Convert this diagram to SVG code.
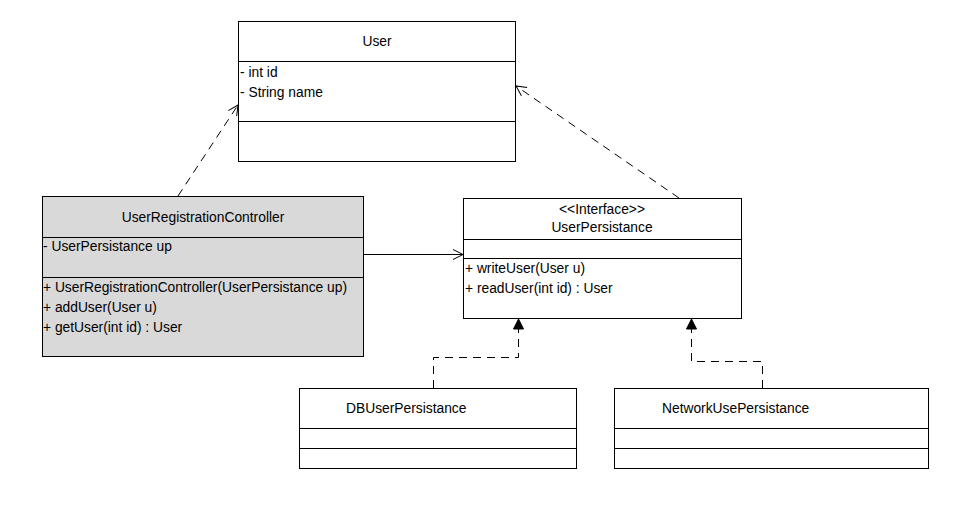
<svg xmlns="http://www.w3.org/2000/svg" width="963" height="517" viewBox="0 0 963 517">
<style>
.box{fill:#ffffff;stroke:#000000;stroke-width:1}
.grey{fill:#d9d9d9;stroke:#000000;stroke-width:1}
.div{stroke:#000000;stroke-width:1}
text{font-family:"Liberation Sans",Arial,sans-serif;font-size:13.8px;fill:#000000}
.c{text-anchor:middle}
.dash{fill:none;stroke:#000000;stroke-width:1;stroke-dasharray:8,6}
.solid{fill:none;stroke:#000000;stroke-width:1}
</style>
<defs>
<marker id="open" markerWidth="12" markerHeight="12" refX="11" refY="6" orient="auto" markerUnits="userSpaceOnUse">
<path d="M1,1 L11,6 L1,11" fill="none" stroke="#000000" stroke-width="1"/>
</marker>
<marker id="tri" markerWidth="12" markerHeight="12" refX="11" refY="6" orient="auto" markerUnits="userSpaceOnUse">
<path d="M1,1 L11,6 L1,11 Z" fill="#000000" stroke="#000000" stroke-width="1"/>
</marker>
</defs>
<rect width="963" height="517" fill="#ffffff"/>
<g id="User">
<rect class="box" x="238.5" y="21.5" width="277" height="140"/>
<line class="div" x1="238.5" y1="61.5" x2="515.5" y2="61.5"/>
<line class="div" x1="238.5" y1="121.5" x2="515.5" y2="121.5"/>
<text class="c" x="377" y="46">User</text>
<text x="240" y="77">- int id</text>
<text x="240" y="97">- String name</text>
</g>
<g id="UserRegistrationController">
<rect class="grey" x="42.5" y="196.5" width="321" height="160"/>
<line class="div" x1="42.5" y1="237.5" x2="363.5" y2="237.5"/>
<line class="div" x1="42.5" y1="277.5" x2="363.5" y2="277.5"/>
<text class="c" x="203" y="222">UserRegistrationController</text>
<text x="43" y="251">- UserPersistance up</text>
<text x="43" y="292">+ UserRegistrationController(UserPersistance up)</text>
<text x="43" y="312">+ addUser(User u)</text>
<text x="43" y="332">+ getUser(int id) : User</text>
</g>
<g id="UserPersistance">
<rect class="box" x="463.5" y="198.5" width="278" height="120"/>
<line class="div" x1="463.5" y1="239.5" x2="741.5" y2="239.5"/>
<line class="div" x1="463.5" y1="258.5" x2="741.5" y2="258.5"/>
<text class="c" x="602" y="214">&lt;&lt;Interface&gt;&gt;</text>
<text class="c" x="602" y="232">UserPersistance</text>
<text x="465" y="273">+ writeUser(User u)</text>
<text x="465" y="293">+ readUser(int id) : User</text>
</g>
<g id="DBUserPersistance">
<rect class="box" x="299.5" y="388.5" width="277" height="80"/>
<line class="div" x1="299.5" y1="428.5" x2="576.5" y2="428.5"/>
<line class="div" x1="299.5" y1="448.5" x2="576.5" y2="448.5"/>
<text x="346" y="413">DBUserPersistance</text>
</g>
<g id="NetworkUsePersistance">
<rect class="box" x="614.5" y="388.5" width="314" height="80"/>
<line class="div" x1="614.5" y1="428.5" x2="928.5" y2="428.5"/>
<line class="div" x1="614.5" y1="448.5" x2="928.5" y2="448.5"/>
<text x="662" y="413">NetworkUsePersistance</text>
</g>
<g id="connectors">
<path class="dash" d="M178,196 L238,105" marker-end="url(#open)"/>
<path class="dash" d="M679,198 L516,86" marker-end="url(#open)"/>
<path class="solid" d="M363.5,254.5 L463,254.5" marker-end="url(#open)"/>
<path class="dash" d="M433.5,388 L433.5,357.5 L518.5,357.5 L518.5,319" marker-end="url(#tri)"/>
<path class="dash" d="M762.5,388 L762.5,361.5 L691.5,361.5 L691.5,319" marker-end="url(#tri)"/>
</g>
</svg>
